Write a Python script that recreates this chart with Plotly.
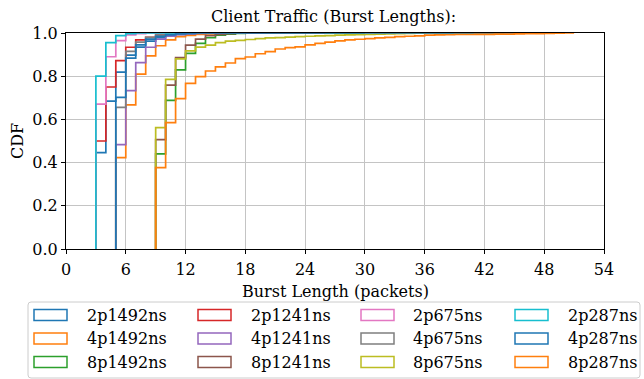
import plotly.graph_objects as go

# ---------------- data (cumulative fraction per 1-packet bin) ----------------
series_names = ["2p1492ns", "4p1492ns", "8p1492ns",
                "2p1241ns", "4p1241ns", "8p1241ns",
                "2p675ns", "4p675ns", "8p675ns",
                "2p287ns", "4p287ns", "8p287ns"]

start_2p1492 = 3
cdf_2p1492 = [0.446, 0.685, 0.819, 0.898, 0.935, 0.962, 0.978, 0.988, 0.993, 0.996, 0.998, 1.0]
end_2p1492 = 20

start_4p1492 = 5
cdf_4p1492 = [0.423, 0.667, 0.810, 0.894, 0.941, 0.968, 0.983, 0.989, 0.993, 0.996, 0.998, 1.0]
end_4p1492 = 22

start_8p1492 = 9
cdf_8p1492 = [0.440, 0.688, 0.829, 0.906, 0.952, 0.978, 0.990, 0.995, 0.998, 1.0]
end_8p1492 = 30

start_2p1241 = 3
cdf_2p1241 = [0.500, 0.750, 0.872, 0.934, 0.968, 0.980, 0.990, 0.995, 0.998, 1.0]
end_2p1241 = 18

start_4p1241 = 5
cdf_4p1241 = [0.483, 0.733, 0.863, 0.934, 0.972, 0.985, 0.992, 0.996, 0.998, 1.0]
end_4p1241 = 20

start_8p1241 = 9
cdf_8p1241 = [0.506, 0.759, 0.886, 0.944, 0.972, 0.988, 0.994, 0.997, 1.0]
end_8p1241 = 26

start_2p675 = 3
cdf_2p675 = [0.671, 0.890, 0.965, 0.991, 0.997, 1.0]
end_2p675 = 14

start_4p675 = 5
cdf_4p675 = [0.656, 0.915, 0.958, 0.980, 0.990, 0.995, 0.998, 1.0]
end_4p675 = 18

start_8p675 = 9
cdf_8p675 = [0.562, 0.785, 0.880, 0.917, 0.935, 0.944, 0.955, 0.962, 0.966, 0.970,
             0.974, 0.977, 0.979, 0.981, 0.983, 0.985, 0.987, 0.988, 0.990, 0.991,
             0.992, 0.994, 0.995, 0.996, 0.997, 0.998, 0.999, 1.0]
end_8p675 = 44

start_2p287 = 3
cdf_2p287 = [0.800, 0.955, 0.988, 0.997, 1.0]
end_2p287 = 12

start_4p287 = 5
cdf_4p287 = [0.702, 0.884, 0.945, 0.972, 0.985, 0.992, 0.996, 0.998, 1.0]
end_4p287 = 48

start_8p287 = 9
cdf_8p287 = [0.377, 0.585, 0.696, 0.767, 0.798, 0.824, 0.843, 0.861, 0.881, 0.889,
             0.904, 0.914, 0.926, 0.932, 0.936, 0.945, 0.952, 0.958, 0.964, 0.968,
             0.971, 0.974, 0.977, 0.980, 0.983, 0.985, 0.987, 0.990, 0.991, 0.992,
             0.993, 0.993, 0.994, 0.994, 0.995, 0.995, 0.996, 0.997, 0.997, 0.998,
             0.999, 1.0]
end_8p287 = 51

series_starts = [start_2p1492, start_4p1492, start_8p1492,
                 start_2p1241, start_4p1241, start_8p1241,
                 start_2p675, start_4p675, start_8p675,
                 start_2p287, start_4p287, start_8p287]
series_cdfs = [cdf_2p1492, cdf_4p1492, cdf_8p1492,
               cdf_2p1241, cdf_4p1241, cdf_8p1241,
               cdf_2p675, cdf_4p675, cdf_8p675,
               cdf_2p287, cdf_4p287, cdf_8p287]
series_ends = [end_2p1492, end_4p1492, end_8p1492,
               end_2p1241, end_4p1241, end_8p1241,
               end_2p675, end_4p675, end_8p675,
               end_2p287, end_4p287, end_8p287]

x_ticks = [0, 6, 12, 18, 24, 30, 36, 42, 48, 54]
y_ticks = [0.0, 0.2, 0.4, 0.6, 0.8, 1.0]

colors = ["#1f77b4", "#ff7f0e", "#2ca02c", "#d62728", "#9467bd", "#8c564b",
          "#e377c2", "#7f7f7f", "#bcbd22", "#17becf", "#1f77b4", "#ff7f0e"]

FONT = "'DejaVu Serif', serif"
W, H = 644, 379
L, R, T, B = 66, 604, 33, 249  # plot area in pixels

fig = go.Figure()
for name, s, vals, e, c in zip(series_names, series_starts, series_cdfs, series_ends, colors):
    xs = [s] + [s + i for i in range(len(vals))] + [e]
    ys = [0] + list(vals) + [vals[-1]]
    fig.add_trace(go.Scatter(x=xs, y=ys, mode="lines", line=dict(color=c, width=1.7, shape="hv"),
                             name=name, showlegend=False, hoverinfo="skip"))


def px2x(p):
    return (p - L) / (R - L)


def px2y(p):
    return (B - p) / (B - T)


shapes = []
annotations = []

# legend frame with rounded corners
x0, x1, y0, y1, r = 28, 640, 302, 378, 3
path = (f"M {px2x(x0 + r)},{px2y(y0)} L {px2x(x1 - r)},{px2y(y0)} "
        f"Q {px2x(x1)},{px2y(y0)} {px2x(x1)},{px2y(y0 + r)} "
        f"L {px2x(x1)},{px2y(y1 - r)} Q {px2x(x1)},{px2y(y1)} {px2x(x1 - r)},{px2y(y1)} "
        f"L {px2x(x0 + r)},{px2y(y1)} Q {px2x(x0)},{px2y(y1)} {px2x(x0)},{px2y(y1 - r)} "
        f"L {px2x(x0)},{px2y(y0 + r)} Q {px2x(x0)},{px2y(y0)} {px2x(x0 + r)},{px2y(y0)} Z")
shapes.append(dict(type="path", xref="paper", yref="paper", path=path,
                   line=dict(color="#cccccc", width=1), fillcolor="white", layer="above"))

col_rect_x = [34, 198, 361, 515]
col_text_x = [85, 249, 411, 566]
row_y = [315, 338.5, 362]
for i, (name, c) in enumerate(zip(series_names, colors)):
    col, row = i // 3, i % 3
    rx, ry = col_rect_x[col], row_y[row]
    shapes.append(dict(type="rect", xref="paper", yref="paper",
                       x0=px2x(rx), x1=px2x(rx + 33), y0=px2y(ry - 5.5), y1=px2y(ry + 5.5),
                       line=dict(color=c, width=1.5), fillcolor="rgba(0,0,0,0)", layer="above"))
    annotations.append(dict(xref="paper", yref="paper", x=px2x(col_text_x[col]), y=px2y(ry),
                            text=name, showarrow=False, xanchor="left", yanchor="middle",
                            font=dict(family=FONT, size=16, color="black")))

# title and axis labels
annotations.append(dict(xref="paper", yref="paper", x=px2x(333), y=px2y(17),
                        text="Client Traffic (Burst Lengths):", showarrow=False,
                        xanchor="center", yanchor="middle",
                        font=dict(family=FONT, size=16, color="black")))
annotations.append(dict(xref="paper", yref="paper", x=px2x(335), y=px2y(291),
                        text="Burst Length (packets)", showarrow=False,
                        xanchor="center", yanchor="middle",
                        font=dict(family=FONT, size=16, color="black")))
annotations.append(dict(xref="paper", yref="paper", x=px2x(17), y=px2y(141),
                        text="CDF", showarrow=False, textangle=-90,
                        xanchor="center", yanchor="middle",
                        font=dict(family=FONT, size=16, color="black")))

axis_common = dict(showline=True, linecolor="black", linewidth=1, mirror=True,
                   ticks="outside", ticklen=4, tickwidth=1, tickcolor="black",
                   showgrid=True, gridcolor="#c4c4c4", gridwidth=1, zeroline=False,
                   tickfont=dict(family=FONT, size=16, color="black"))

fig.update_layout(
    width=W, height=H,
    font=dict(family=FONT, size=16, color="black"),
    margin=dict(l=L, r=W - R, t=T, b=H - B, pad=0),
    paper_bgcolor="white", plot_bgcolor="white",
    showlegend=False,
    xaxis=dict(range=[0, 54], tickvals=x_ticks, ticktext=[str(v) for v in x_ticks],
               ticklabelstandoff=2, **axis_common),
    yaxis=dict(range=[0, 1.0], tickvals=y_ticks, ticktext=[f"{v:.1f}" for v in y_ticks], **axis_common),
    shapes=shapes, annotations=annotations,
)

fig.write_html("out.html", config={"displayModeBar": False},
               post_script="document.body.style.margin='0';document.body.style.padding='0';"
                           "document.body.style.overflow='hidden';")
